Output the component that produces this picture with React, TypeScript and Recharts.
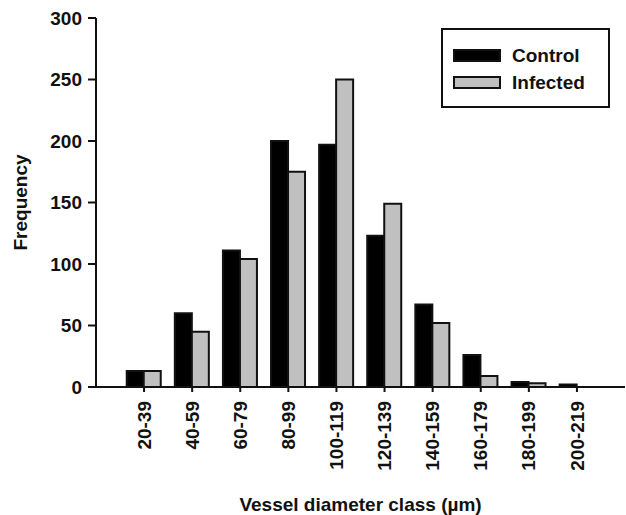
import { Bar, BarChart, Legend, XAxis, YAxis } from 'recharts'

const classes = ['20-39', '40-59', '60-79', '80-99', '100-119', '120-139', '140-159', '160-179', '180-199', '200-219']
const control = [13, 60, 111, 200, 197, 123, 67, 26, 4, 2]
const infected = [13, 45, 104, 175, 250, 149, 52, 9, 3, 0]
const yTicks = [0, 50, 100, 150, 200, 250, 300]

const data = classes.map((cls, i) => ({ cls, control: control[i], infected: infected[i] }))

const font = '"Liberation Sans", Arial, sans-serif'
const ink = '#111'

function ClassTick({ x, y, payload }: any) {
  const ty = y + 7
  return (
    <text
      x={x}
      y={ty}
      transform={`rotate(-90 ${x} ${ty})`}
      textAnchor="end"
      dy="0.35em"
      fill={ink}
      fontFamily={font}
      fontWeight="bold"
      fontSize={19}
    >
      {payload.value}
    </text>
  )
}

function FreqLabel({ viewBox }: any) {
  const cx = 20
  const cy = viewBox.y + viewBox.height / 2
  return (
    <text
      x={cx}
      y={cy}
      transform={`rotate(-90 ${cx} ${cy})`}
      textAnchor="middle"
      dy="0.35em"
      fill={ink}
      fontFamily={font}
      fontWeight="bold"
      fontSize={19}
    >
      Frequency
    </text>
  )
}

function LegendBox({ payload }: any) {
  return (
    <div
      style={{
        border: `2px solid ${ink}`,
        width: 169,
        height: 80,
        boxSizing: 'border-box',
        padding: '12px 0 0 10px',
        fontFamily: font,
        fontWeight: 'bold',
        fontSize: 19,
        color: ink,
        background: '#fff',
      }}
    >
      {(payload || []).map((entry: any) => (
        <div key={entry.value} style={{ display: 'flex', alignItems: 'center', height: 27 }}>
          <span
            style={{
              display: 'inline-block',
              width: 48,
              height: 13,
              background: entry.color,
              border: `2px solid ${ink}`,
              boxSizing: 'border-box',
              marginRight: 11,
            }}
          />
          {entry.value}
        </div>
      ))}
    </div>
  )
}

export default function App() {
  return (
    <div style={{ position: 'absolute', left: 0, top: 0, background: '#fff' }}>
      <BarChart
        width={626}
        height={515}
        data={data}
        margin={{ top: 18, right: 1, bottom: 0, left: 0 }}
        barCategoryGap="14%"
        barGap={0}
      >
        <XAxis
          dataKey="cls"
          height={128}
          interval={0}
          padding={{ left: 24, right: 24 }}
          axisLine={{ stroke: ink, strokeWidth: 2 }}
          tickLine={{ stroke: ink, strokeWidth: 2 }}
          tickSize={5}
          tick={<ClassTick />}
          label={{
            value: 'Vessel diameter class (\u00b5m)',
            position: 'insideBottom',
            offset: 4,
            fill: ink,
            fontFamily: font,
            fontWeight: 'bold',
            fontSize: 19,
          }}
        />
        <XAxis
          xAxisId="top"
          orientation="top"
          dataKey="cls"
          height={0}
          tick={false}
          tickLine={false}
          axisLine={{ stroke: ink, strokeWidth: 2 }}
        />
        <YAxis
          domain={[0, 300]}
          ticks={yTicks}
          width={96}
          interval={0}
          axisLine={{ stroke: ink, strokeWidth: 2 }}
          tickLine={{ stroke: ink, strokeWidth: 2 }}
          tickSize={8}
          tickMargin={6}
          tick={{ fill: ink, fontSize: 19, fontWeight: 'bold', fontFamily: font }}
          label={<FreqLabel />}
        />
        <YAxis
          yAxisId="right"
          orientation="right"
          width={0}
          tick={false}
          tickLine={false}
          axisLine={{ stroke: ink, strokeWidth: 2 }}
        />
        <Legend
          layout="vertical"
          align="center"
          verticalAlign="middle"
          content={<LegendBox />}
          wrapperStyle={{ left: 441, top: 28, width: 169, height: 80 }}
        />
        <Bar dataKey="control" name="Control" fill="#000" stroke={ink} strokeWidth={2} isAnimationActive={false} />
        <Bar dataKey="infected" name="Infected" fill="#c0c0c0" stroke={ink} strokeWidth={2} isAnimationActive={false} />
      </BarChart>
    </div>
  )
}
